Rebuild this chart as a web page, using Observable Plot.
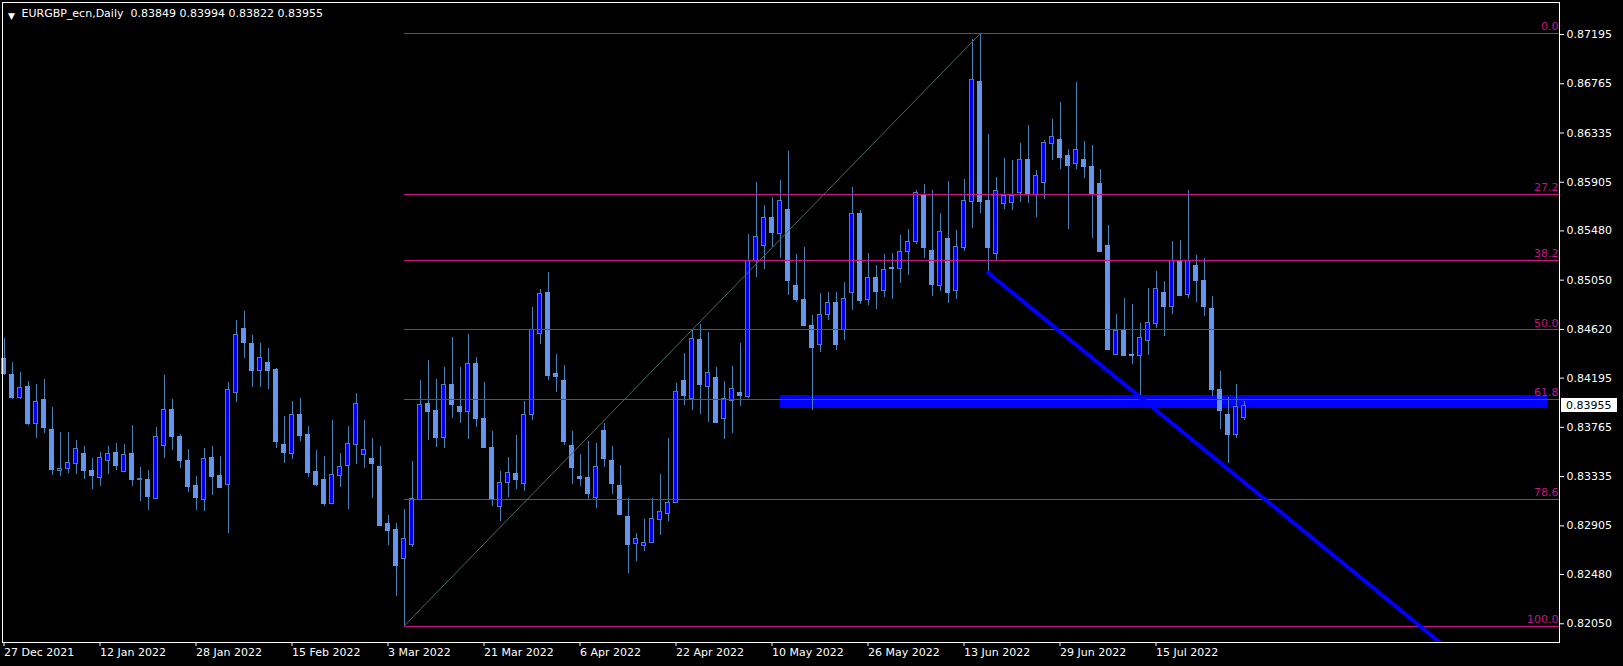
<!DOCTYPE html>
<html><head><meta charset="utf-8">
<script src="https://cdn.jsdelivr.net/npm/d3@7"></script>
<script src="https://cdn.jsdelivr.net/npm/@observablehq/plot@0.6"></script>
<style>
html,body{margin:0;padding:0;background:#000;overflow:hidden;}
#chart svg{display:block;}
</style></head><body><div id="chart"></div>
<script>
// ---- data ----
const symbolTitle = "EURGBP_ecn,Daily";
const lastBar = [0.83849, 0.83994, 0.83822, 0.83955]; // O H L C shown in header

const open = [0.84358,0.84224,0.84023,0.84113,0.83796,0.84008,0.83746,0.83386,0.83403,0.83447,
0.83528,0.83388,0.83325,0.83473,0.83537,0.83377,0.83528,0.83304,0.83301,0.83141,
0.83604,0.83918,0.83683,0.83467,0.83249,0.83133,0.83493,0.83336,0.83264,0.84063,
0.84620,0.84497,0.84259,0.84331,0.84262,0.83607,0.83534,0.83869,0.83694,0.83371,
0.83301,0.83098,0.83339,0.83429,0.83613,0.83526,0.83485,0.83415,0.82917,0.82865,
0.82618,0.82734,0.83135,0.83965,0.83904,0.83670,0.84139,0.83939,0.83898,0.84320,
0.83834,0.83581,0.83068,0.83278,0.83354,0.83272,0.83875,0.84582,0.84934,0.84233,
0.84174,0.83598,0.83333,0.83319,0.83147,0.83729,0.83467,0.83249,0.82978,0.82745,
0.82728,0.82754,0.82955,0.83007,0.83103,0.84174,0.84011,0.84524,0.84116,0.84200,
0.83836,0.83997,0.84069,0.84028,0.85216,0.85347,0.85597,0.85455,0.85659,0.84995,
0.84873,0.84646,0.84480,0.84744,0.84855,0.84611,0.84936,0.85632,0.84879,0.85065,
0.84954,0.85152,0.85150,0.85298,0.85385,0.85781,0.85309,0.85001,0.85411,0.84957,
0.85329,0.85734,0.86776,0.85737,0.85280,0.85717,0.85726,0.85810,0.86095,0.85792,
0.85897,0.86237,0.86278,0.86130,0.86063,0.86095,0.86034,0.85886,0.85344,0.84401,
0.84605,0.84401,0.84386,0.84517,0.84669,0.84934,0.84814,0.85219,0.84919,0.85170,
0.85047,0.84794,0.84087,0.83869,0.83694,0.83849];

const high = [0.84538,0.84329,0.84241,0.84163,0.84137,0.84183,0.83939,0.83718,0.83718,0.83650,
0.83598,0.83493,0.83546,0.83598,0.83624,0.83615,0.83781,0.83415,0.83388,0.83764,
0.84218,0.84008,0.83703,0.83572,0.83336,0.83581,0.83598,0.83511,0.84157,0.84698,
0.84777,0.84567,0.84497,0.84454,0.84279,0.83860,0.83991,0.84017,0.83773,0.83563,
0.83511,0.83825,0.83537,0.83773,0.84061,0.83825,0.83668,0.83598,0.82996,0.82926,
0.83048,0.83467,0.84174,0.84349,0.84183,0.84290,0.84550,0.84288,0.84576,0.84375,
0.84157,0.83729,0.83380,0.83502,0.83694,0.83991,0.84812,0.84969,0.85117,0.84401,
0.84305,0.83729,0.83528,0.83642,0.83624,0.83799,0.83598,0.83432,0.83144,0.82838,
0.82961,0.83144,0.83354,0.83668,0.84148,0.84410,0.84620,0.84663,0.84593,0.84288,
0.84166,0.84297,0.84497,0.85446,0.85900,0.85700,0.85772,0.85918,0.86174,0.85274,
0.85333,0.84742,0.84934,0.84942,0.84942,0.85030,0.85859,0.85659,0.85283,0.85178,
0.85274,0.85283,0.85440,0.85493,0.85836,0.85886,0.85833,0.85632,0.85909,0.85484,
0.85929,0.87149,0.87201,0.86319,0.85944,0.86110,0.86095,0.86241,0.86401,0.86008,
0.86270,0.86453,0.86601,0.86191,0.86776,0.86261,0.86226,0.86017,0.85528,0.84751,
0.84890,0.84838,0.84672,0.84978,0.85126,0.85039,0.85388,0.85397,0.85833,0.85266,
0.85239,0.84908,0.84253,0.84026,0.84139,0.83994];

const low = [0.84218,0.84011,0.84011,0.83781,0.83670,0.83714,0.83347,0.83339,0.83365,0.83356,
0.83313,0.83225,0.83251,0.83356,0.83391,0.83377,0.83251,0.83120,0.83042,0.83141,
0.83496,0.83566,0.83409,0.83199,0.83042,0.83033,0.83173,0.83234,0.82841,0.83985,
0.84369,0.84116,0.84116,0.84098,0.83583,0.83452,0.83487,0.83644,0.83330,0.83251,
0.83077,0.83098,0.83243,0.83051,0.83443,0.83409,0.83147,0.82902,0.82736,0.82291,
0.82029,0.82719,0.83135,0.83650,0.83589,0.83581,0.83842,0.83799,0.83659,0.83764,
0.83589,0.83074,0.82943,0.83153,0.83223,0.83205,0.83825,0.84489,0.84174,0.84069,
0.83607,0.83266,0.83249,0.83127,0.83057,0.83415,0.83182,0.82996,0.82489,0.82594,
0.82681,0.82754,0.82821,0.82946,0.83103,0.83956,0.83912,0.83877,0.83808,0.83799,
0.83659,0.83712,0.83947,0.84020,0.85076,0.85146,0.85333,0.85242,0.84916,0.84858,
0.84646,0.83912,0.84419,0.84698,0.84436,0.84524,0.84788,0.84840,0.84832,0.84797,
0.84902,0.84884,0.85024,0.85094,0.85364,0.85242,0.84910,0.84954,0.84849,0.84884,
0.85298,0.85504,0.85635,0.85115,0.85222,0.85670,0.85661,0.85731,0.85722,0.85600,
0.85757,0.86095,0.86019,0.85495,0.86019,0.85940,0.85417,0.85292,0.84436,0.84393,
0.84386,0.84317,0.84043,0.84395,0.84631,0.84558,0.84751,0.84908,0.84890,0.84855,
0.84733,0.84037,0.83746,0.83450,0.83670,0.83822];

const close = [0.84229,0.84020,0.84111,0.83790,0.83988,0.83758,0.83391,0.83403,0.83456,0.83578,
0.83382,0.83339,0.83499,0.83534,0.83426,0.83526,0.83304,0.83316,0.83155,0.83683,
0.83918,0.83679,0.83470,0.83243,0.83147,0.83491,0.83330,0.83234,0.84093,0.84573,
0.84500,0.84255,0.84372,0.84255,0.83636,0.83540,0.83875,0.83688,0.83365,0.83260,
0.83094,0.83351,0.83421,0.83622,0.83971,0.83569,0.83443,0.82908,0.82859,0.82553,
0.82792,0.83141,0.83962,0.83895,0.83668,0.84137,0.83956,0.83895,0.84320,0.83834,
0.83589,0.83135,0.83281,0.83368,0.83301,0.83877,0.84617,0.84931,0.84209,0.84203,
0.83633,0.83406,0.83313,0.83179,0.83421,0.83485,0.83269,0.82996,0.82742,0.82786,
0.82757,0.82961,0.83028,0.83106,0.84076,0.84035,0.84532,0.84139,0.84241,0.83799,
0.84014,0.84102,0.84035,0.85213,0.85429,0.85595,0.85460,0.85743,0.85041,0.84873,
0.84654,0.84462,0.84748,0.84853,0.84480,0.84888,0.85630,0.84867,0.85071,0.84945,
0.85141,0.85146,0.85298,0.85385,0.85813,0.85329,0.85006,0.85473,0.84936,0.85342,
0.85743,0.86800,0.85731,0.85329,0.85831,0.85781,0.85781,0.86101,0.85790,0.85962,
0.86250,0.86302,0.86121,0.86043,0.86189,0.86034,0.85796,0.85298,0.84436,0.84605,
0.84386,0.84386,0.84547,0.84678,0.84975,0.84820,0.85219,0.84908,0.85213,0.85039,
0.84812,0.84087,0.83912,0.83694,0.83939,0.83955];

// date axis: bar index of each label and its text
const dateTickIndex = [0,12,24,36,48,60,72,84,96,108,120,132,144];
const dateTickLabels = ["27 Dec 2021","12 Jan 2022","28 Jan 2022","15 Feb 2022","3 Mar 2022","21 Mar 2022",
  "6 Apr 2022","22 Apr 2022","10 May 2022","26 May 2022","13 Jun 2022","29 Jun 2022","15 Jul 2022"];

// price axis ticks
const priceTicks = [0.87195,0.86765,0.86335,0.85905,0.85480,0.85050,0.84620,0.84195,0.83765,0.83335,0.82905,0.82480,0.82050];

// Fibonacci retracement (from the 7 Mar low to the 15 Jun high)
const fibLevels = [0, 27.2, 38.2, 50, 61.8, 78.6, 100];
const fibLabels = ["0.0","27.2","38.2","50.0","61.8","78.6","100.0"];
const fibLow  = {i: 50,  price: 0.82029};
const fibHigh = {i: 122, price: 0.87201};

// drawn objects
const trendLine = [{i: 123, price: 0.85115}, {i: 181, price: 0.81801}];
const zone = {from: 97, to: 192.9, top: 0.84043, bottom: 0.83959, line: 0.83940};

// ---- build ----
const bars = open.map((o, i) => ({i, open: o, high: high[i], low: low[i], close: close[i]}));
const upBars = bars.filter(d => d.close >= d.open);
const downBars = bars.filter(d => d.close < d.open);
const fibData = fibLevels.map((l, k) => ({label: fibLabels[k],
  price: fibHigh.price - (fibHigh.price - fibLow.price) * l / 100}));

const xDomain = [-0.1875, 194.4375];
const yDomain = [0.818865, 0.874743];
const FONT = "DejaVu Sans";
const fmt5 = d3.format(".5f");
const CRISP = {shapeRendering: "crispEdges"};

function priceBox(index, scales, values, dimensions) {
  const last = close[close.length - 1];
  const y = Math.round(scales.y(last));
  const x0 = dimensions.width - dimensions.marginRight + 2;
  const g = d3.create("svg:g");
  g.append("rect").attr("x", x0).attr("y", y - 7).attr("width", 56).attr("height", 14).attr("fill", "#fff");
  g.append("text").attr("x", x0 + 5).attr("y", y).attr("dy", "0.36em").attr("text-anchor", "start")
    .attr("fill", "#000").attr("font-family", FONT).attr("font-size", 11).text(fmt5(last));
  return g.node();
}

const chart = Plot.plot({
  width: 1623, height: 666,
  marginTop: 2, marginRight: 64, marginBottom: 24, marginLeft: 2,
  style: {background: "#000", color: "#fff", fontFamily: FONT, fontSize: "11px"},
  x: {type: "linear", domain: xDomain, axis: null},
  y: {type: "linear", domain: yDomain, axis: null},
  marks: [
    // support zone
    Plot.rect([zone], {x1: "from", x2: "to", y1: "bottom", y2: "top", fill: "#0000FF", ...CRISP}),
    Plot.ruleY([zone], {y: "line", x1: "from", x2: "to", stroke: "#0000FF", strokeWidth: 2, ...CRISP}),
    // candles
    Plot.ruleX(bars, {x: "i", y1: "low", y2: "high", stroke: "#4682B4", strokeWidth: 1, ...CRISP}),
    Plot.rect(downBars, {x1: d => d.i - 0.25, x2: d => d.i + 0.25, y1: "open", y2: "close",
      fill: "#6495ED", stroke: "#6495ED", strokeWidth: 1, ...CRISP}),
    Plot.rect(upBars, {x1: d => d.i - 0.25, x2: d => d.i + 0.25, y1: "open", y2: "close",
      fill: "#0000FF", stroke: "#4682B4", strokeWidth: 1, ...CRISP}),
    // fibonacci
    Plot.ruleY(fibData, {y: "price", x1: fibLow.i, x2: xDomain[1], stroke: "#C71585", strokeWidth: 1, ...CRISP}),
    Plot.text(fibData, {x: xDomain[1], y: "price", text: "label", textAnchor: "end", dx: -1, dy: -7,
      fill: "#C71585", fontSize: 11}),
    Plot.link([0], {x1: fibLow.i, y1: fibLow.price, x2: fibHigh.i, y2: fibHigh.price,
      stroke: "#466b62", strokeWidth: 1}),
    // trend line
    Plot.line(trendLine, {x: "i", y: "price", stroke: "#0000FF", strokeWidth: 4, clip: true}),
    // axes
    Plot.axisY(priceTicks, {anchor: "right", tickSize: 4, tickPadding: 3, tickFormat: fmt5,
      stroke: "#fff", fill: "#fff", fontSize: 11, label: null}),
    Plot.axisX(dateTickIndex, {anchor: "bottom", tickSize: 4, tickPadding: 2,
      tickFormat: d => dateTickLabels[dateTickIndex.indexOf(d)], textAnchor: "start", dx: 0,
      stroke: "#fff", fill: "#fff", fontSize: 11, label: null}),
    Plot.frame({stroke: "#fff", ...CRISP}),
    // header
    Plot.text([0], {frameAnchor: "top-left", text: () => "\u25BC", dx: 9, dy: 10, textAnchor: "middle",
      fill: "#fff", fontSize: 9}),
    Plot.text([0], {frameAnchor: "top-left",
      text: () => symbolTitle + "\u00A0\u00A0" + lastBar.map(fmt5).join(" "),
      dx: 19, dy: 10.7, textAnchor: "start", lineAnchor: "middle", fill: "#fff", fontSize: 11}),
    priceBox
  ]
});
document.getElementById("chart").appendChild(chart);
</script>
</body></html>
